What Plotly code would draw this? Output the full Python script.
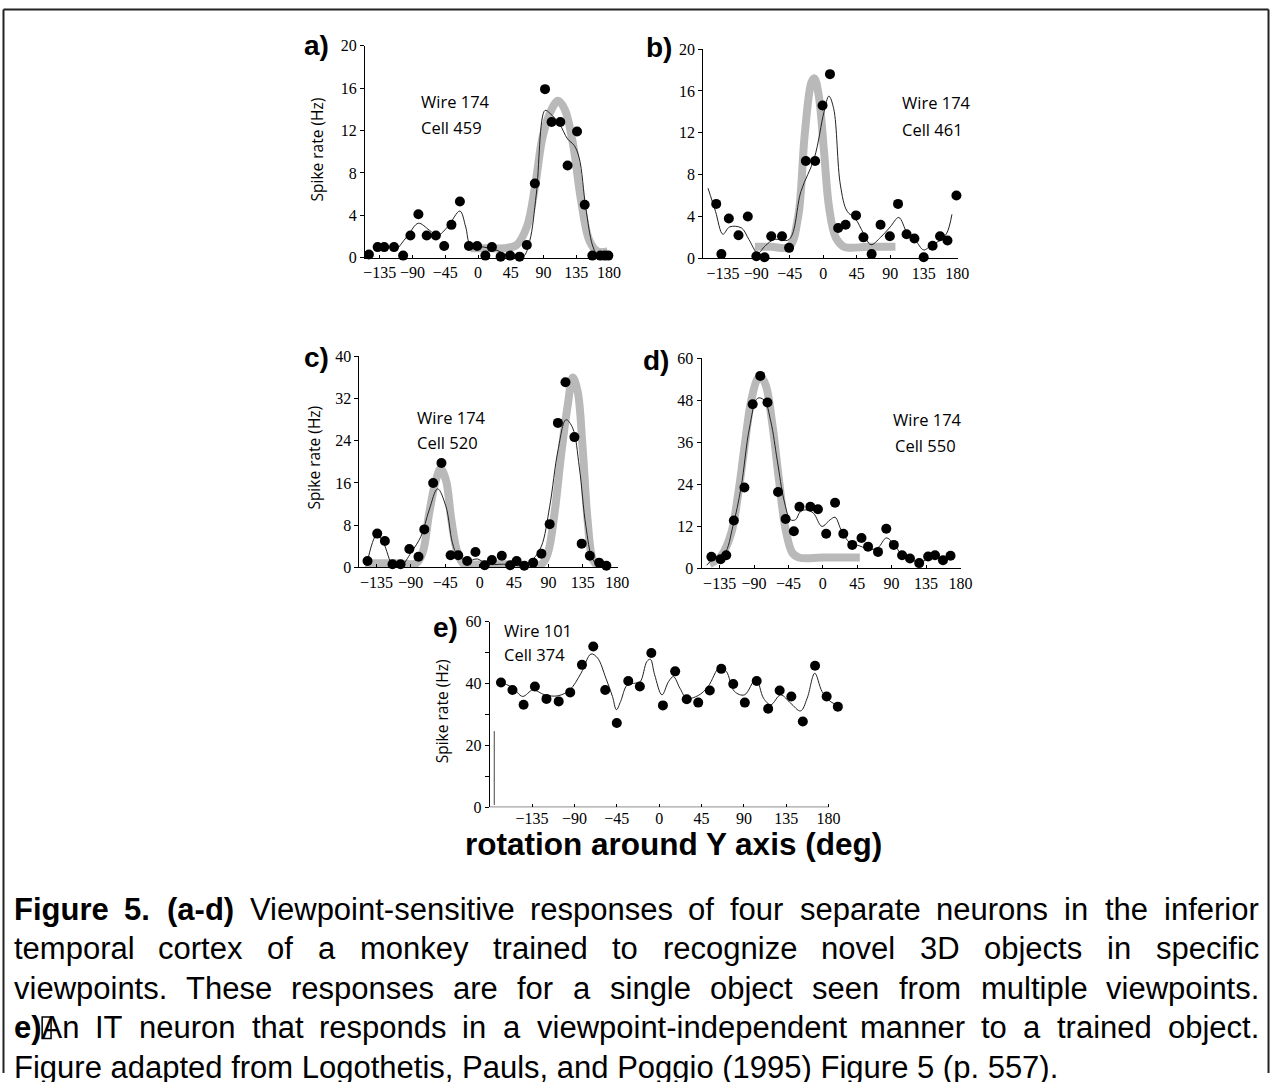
import plotly.graph_objects as go

W, H = 1281, 1082

# ------------------------------------------------------------------ data
# panel a  (Wire 174 / Cell 459)
a_pts_deg = [-150, -138, -129, -115.5, -103, -93, -82, -70.6, -58, -46.6, -36.6, -25, -12.6, -1.3, 10, 19,
             31, 44, 57, 67, 78, 92, 101, 113, 123, 136, 146.5, 157, 168, 174, 179]
a_pts_rate = [0.3, 1.0, 1.0, 1.0, 0.2, 2.1, 4.1, 2.1, 2.1, 1.1, 3.1, 5.3, 1.1, 1.1, 0.2, 1.0,
              0.1, 0.2, 0.1, 1.2, 7.0, 15.9, 12.8, 12.8, 8.7, 11.9, 5.0, 0.2, 0.2, 0.2, 0.2]
a_fit_deg = [-110, -96.5, -82, -67, -55.7, -42, -25, -17, -10.3, 7.8, 26, 44, 62, 71, 80, 92, 99, 112,
             123, 132, 139, 148, 157, 164]
a_fit_rate = [0.9, 2.1, 3.25, 2.6, 2.1, 2.9, 4.4, 2.9, 1.2, 1.0, 0.7, 0.1, 0.1, 1.6, 6.0, 13.9, 13.6, 12.6,
              11.2, 10.6, 9.4, 4.7, 1.2, 0.1]
a_tune_deg = [-10.3, 7.8, 35, 53, 67, 78, 89, 101, 110, 119, 130, 141.5, 153, 164, 178]
a_tune_rate = [0.9, 0.9, 0.9, 1.2, 2.9, 6.6, 11.5, 14.0, 14.8, 14.0, 10.9, 5.4, 1.6, 0.6, 0.6]

# panel b  (Wire 174 / Cell 461)
b_pts_deg = [-144, -137, -127, -114, -101.5, -90, -79, -70, -55.5, -46, -23.5, -11, -1, 9, 20, 30, 44, 54,
             65, 77, 89.5, 100.5, 112, 122.5, 135, 147, 157, 167, 179]
b_pts_rate = [5.2, 0.4, 3.8, 2.2, 4.0, 0.2, 0.1, 2.1, 2.1, 1.0, 9.3, 9.3, 14.6, 17.6, 2.9, 3.2, 4.1, 2.0,
              0.4, 3.2, 2.1, 5.2, 2.3, 1.9, 0.1, 1.2, 2.1, 1.7, 6.0]
b_fit_deg = [-155, -145, -135, -126, -110, -100, -88, -78, -66, -46, -30, -12, 1, 7.5, 14, 23, 32, 43, 54,
             64, 77, 90, 101.5, 113, 124, 135, 146, 157, 166, 173]
b_fit_rate = [6.7, 4.5, 2.3, 3.0, 2.9, 1.8, 0.5, 1.2, 1.8, 1.8, 6.4, 9.6, 14.0, 15.5, 14.3, 7.0, 4.5, 3.8,
              2.4, 1.3, 2.0, 3.0, 3.9, 2.4, 1.7, 0.8, 1.3, 1.7, 2.4, 4.2]
b_tune_deg = [-92, -70, -46, -34, -25, -16, -12, -6, 1, 7.7, 16.7, 28, 60, 97]
b_tune_rate = [1.1, 1.1, 1.1, 3.9, 11.8, 16.8, 17.2, 15.5, 10.2, 4.9, 2.0, 1.1, 1.1, 1.1]

# panel c  (Wire 174 / Cell 520)
c_pts_deg = [-146.7, -134, -124, -114, -103.5, -92, -80, -72.4, -60.8, -50, -38, -28, -16.3, -5.5, 6.6,
             16, 29, 40, 48.4, 58.4, 70, 80.8, 91.6, 102.4, 112.3, 124, 133.5, 144.2, 156.3, 165.8]
c_pts_rate = [1.2, 6.4, 5.0, 0.6, 0.6, 3.5, 2.0, 7.2, 16.0, 19.8, 2.3, 2.3, 1.2, 2.9, 0.4,
              1.4, 2.2, 0.4, 1.2, 0.3, 0.9, 2.6, 8.2, 27.4, 35.1, 24.7, 4.5, 2.2, 0.9, 0.3]
c_fit_deg = [-148, -134.5, -126, -113, -102.6, -89.7, -76.7, -66, -55, -44, -35.7, -29, -16, -3, 9.6, 31,
             57, 70, 80.8, 91.6, 102.4, 113, 121.8, 130.4, 139, 147.7, 156.3, 167]
c_fit_rate = [0.4, 6.2, 4.7, 0.3, 0.3, 2.8, 5.9, 10.9, 14.9, 11.5, 4.7, 2.3, 1.2, 1.6, 0.6, 0.6,
              0.4, 1.6, 4.0, 11.5, 22.1, 28.0, 26.4, 19.0, 7.8, 1.6, 0.3, 0.3]
c_tune_deg = [-150, -110, -83, -74.6, -66, -57.3, -51, -44, -37, -29, -20.6, 0, 40, 80.8, 89.4, 98,
              106.7, 115.3, 121.8, 128.3, 134.7, 141.2, 147.7, 154]
c_tune_rate = [0.8, 0.8, 0.8, 2.8, 10.3, 16.5, 18.7, 16.5, 9.0, 2.8, 0.6, 0.6, 0.6, 0.6, 2.8, 10.3,
               21.5, 30.8, 36.0, 33.3, 22.7, 9.0, 1.6, 0.3]

# panel d  (Wire 174 / Cell 550)
d_pts_deg = [-145.8, -133.7, -126.4, -116.4, -102.6, -91.8, -81.9, -72.4, -58.6, -48.7, -37.9, -30.6,
             -16.3, -6.4, 4.4, 16, 26.8, 38.5, 50.6, 59.2, 72.2, 83, 92.9, 103.7, 114, 126.1, 137.8,
             146.8, 157.2, 167.1]
d_pts_rate = [3.3, 2.6, 3.75, 13.7, 23.1, 46.9, 55.0, 47.4, 21.8, 14.1, 10.6, 17.6,
              17.6, 16.9, 9.9, 18.75, 9.9, 6.7, 8.7, 6.2, 4.7, 11.3, 6.7, 3.75, 2.8, 1.5, 3.4,
              3.75, 2.3, 3.6]
d_fit_deg = [-152, -141.5, -128.5, -117.7, -106.9, -96, -85.4, -76.7, -68.1, -59.5, -50.8, -42.2, -35.7,
             -29.3, -20.6, -12, -1.2, 9.6, 16, 24.7, 35.5, 48.4, 61.4, 72.2, 83, 91.6, 104.5, 115.3,
             126.1, 139, 149.8, 160.6, 169.3]
d_fit_rate = [0.9, 3.1, 4.3, 12, 23.2, 40.1, 48.6, 48.1, 42, 30.7, 19.5, 13.9, 13.9,
              16.2, 16.7, 15.7, 12, 13.9, 14.6, 10.6, 7.3, 6.4, 5.4, 5.9, 8.7, 7.3, 3.6, 2.6,
              1.7, 2.8, 3.1, 2.8, 3.6]
d_tune_deg = [-148, -132.8, -119.8, -111.3, -102.6, -94, -85.4, -81, -74.6, -66, -57.3, -48.7, -40,
              -31.4, 0, 48.4]
d_tune_rate = [1.2, 3.6, 10.1, 20.4, 34.5, 47.6, 54.2, 54.7, 52.3, 41.1, 25.1, 11.1, 4.5,
               3.1, 3.1, 3.1]

# panel e  (Wire 101 / Cell 374)
e_pts_deg = [-168, -155.8, -144, -132, -119.7, -106.7, -94.5, -82, -70, -57.3, -45, -32.8, -20.5, -8.3,
             4, 17, 29.3, 41.5, 53.8, 66, 78.7, 91, 103.6, 115.8, 128, 140.4, 152.6, 165.6, 177.9, 189.8]
e_pts_rate = [40.3, 37.9, 33.1, 39.0, 35.0, 34.2, 37.1, 46.0, 51.9, 37.9, 27.2, 40.8, 39.0, 49.8,
              32.9, 43.9, 34.9, 33.8, 37.7, 44.7, 39.8, 33.8, 40.8, 31.8, 37.7, 35.8, 27.7, 45.7, 35.8, 32.5]
e_fit_deg = [-172, -156, -145, -134, -121.5, -107.5, -95, -83, -72.4, -65.4, -56.6, -49.6, -45.4, -40.9,
             -33.9, -25, -20, -13, -9.3, -4.8, 3, 10, 15.2, 22, 29.3, 41.5, 52, 64.3, 71.3, 80, 90.6,
             102.8, 110.9, 118.6, 129, 139.7, 150.2, 157.2, 165.3, 173, 181.8, 188.7]
e_fit_rate = [40.8, 38.7, 35.8, 37.9, 36.3, 36, 37.9, 43.3, 49.5, 48.2, 41.7, 35.8, 31.5, 34.2,
              39.5, 40.1, 40.6, 47.1, 47.8, 42.8, 36.3, 40.6, 42.2, 38.5, 35.2, 36.1, 39, 45.2, 43.9, 37.4, 36.3,
              41.4, 35.2, 33.1, 36.3, 33.6, 31.1, 35.2, 43.3, 37.4, 34.2, 33.1]

x_tickvals = [-135, -90, -45, 0, 45, 90, 135, 180]
x_ticktext = ["\u2212135", "\u221290", "\u221245", "0", "45", "90", "135", "180"]

panel_labels = ["a)", "b)", "c)", "d)", "e)"]
panel_wire = ["Wire 174", "Wire 174", "Wire 174", "Wire 174", "Wire 101"]
panel_cell = ["Cell 459", "Cell 461", "Cell 520", "Cell 550", "Cell 374"]
panel_yticks = [[0, 4, 8, 12, 16, 20], [0, 4, 8, 12, 16, 20], [0, 8, 16, 24, 32, 40],
                [0, 12, 24, 36, 48, 60], [0, 10, 20, 30, 40, 50, 60]]
panel_yticktext = [None, None, None, None, ["0", "", "20", "", "40", "", "60"]]
y_title = "Spike rate (Hz)"
x_title = "rotation around Y axis (deg)"

caption_lines = [
    [[("Figure", True)], [("5.", True)], [("(a-d)", True)]]
    + [[(w, False)] for w in "Viewpoint-sensitive responses of four separate neurons in the inferior".split()],
    [[(w, False)] for w in "temporal cortex of a monkey trained to recognize novel 3D objects in specific".split()],
    [[(w, False)] for w in "viewpoints. These responses are for a single object seen from multiple viewpoints.".split()],
    [[("e)", True), ("An", False)]]
    + [[(w, False)] for w in "IT neuron that responds in a viewpoint-independent manner to a trained object.".split()],
]
caption_last = "Figure adapted from Logothetis, Pauls, and Poggio (1995) Figure 5 (p. 557)."

# ------------------------------------------------------------------ layout geometry (pixels)
panels = [
    dict(data=(a_pts_deg, a_pts_rate, a_fit_deg, a_fit_rate, a_tune_deg, a_tune_rate),
         x0=366.7, x1=615.0, ytop=38.3, ybot=253.7, xr=[-155.4, 182.3], yr=[0, 20],
         lab=(318, 38), wire=(421, 95), cell=(421, 121), ytitle=(318, 144)),
    dict(data=(b_pts_deg, b_pts_rate, b_fit_deg, b_fit_rate, b_tune_deg, b_tune_rate),
         x0=708.3, x1=965.7, ytop=41.7, ybot=254.3, xr=[-161.6, 181], yr=[0, 20],
         lab=(664, 40), wire=(907, 96), cell=(907, 123), ytitle=None),
    dict(data=(c_pts_deg, c_pts_rate, c_fit_deg, c_fit_rate, c_tune_deg, c_tune_rate),
         x0=361.0, x1=622.3, ytop=354.0, ybot=568.3, xr=[-157.4, 181], yr=[0, 40],
         lab=(318, 355), wire=(417, 416), cell=(417, 441), ytitle=(315, 457)),
    dict(data=(d_pts_deg, d_pts_rate, d_fit_deg, d_fit_rate, d_tune_deg, d_tune_rate),
         x0=706.7, x1=969.0, ytop=356.0, ybot=569.3, xr=[-158.7, 181], yr=[0, 60],
         lab=(661, 358), wire=(898, 418), cell=(900, 444), ytitle=None),
    dict(data=(e_pts_deg, e_pts_rate, e_fit_deg, e_fit_rate, None, None),
         x0=492.7, x1=846.5, ytop=623.3, ybot=812.0, xr=[-180, 192], yr=[0, 60],
         lab=(448, 629), wire=(505, 632), cell=(505, 657), ytitle=(444, 714)),
]

SERIF = "Liberation Serif, Times New Roman, serif"
SANS = "Open Sans, Lato, DejaVu Sans, sans-serif"
ARIAL = "Liberation Sans, Arial, Helvetica, sans-serif"
GRAY = "#b9b9b9"


def px(x):
    return x / W


def py(y):
    return 1 - y / H


fig = go.Figure()
layout = dict(width=W, height=H, margin=dict(l=0, r=0, t=0, b=0),
              paper_bgcolor="white", plot_bgcolor="rgba(0,0,0,0)", showlegend=False)
annotations = []
shapes = []

for i, p in enumerate(panels):
    n = "" if i == 0 else str(i + 1)
    pts_x, pts_y, fit_x, fit_y, tun_x, tun_y = p["data"]
    is_e = (i == 4)
    layout["xaxis" + n] = dict(
        domain=[px(p["x0"]), px(p["x1"])], range=p["xr"], anchor="y" + n,
        showline=not is_e, linecolor="black", linewidth=1, mirror=False,
        ticks="inside", ticklen=3, tickcolor="black", tickwidth=1,
        tickvals=x_tickvals, ticktext=x_ticktext, showgrid=False, zeroline=False,
        tickfont=dict(family=SERIF, size=16, color="black"), fixedrange=True)
    ytt = panel_yticktext[i]
    layout["yaxis" + n] = dict(
        domain=[py(p["ybot"]), py(p["ytop"])], range=p["yr"], anchor="x" + n,
        showline=True, linecolor="black", linewidth=1,
        ticks="outside", ticklen=4, tickcolor="black", tickwidth=1,
        tickvals=panel_yticks[i], ticktext=ytt if ytt else [str(v) for v in panel_yticks[i]],
        showgrid=False, zeroline=False,
        tickfont=dict(family=SERIF, size=16, color="black"), fixedrange=True)

    if tun_x is not None:
        fig.add_trace(go.Scatter(x=tun_x, y=tun_y, mode="lines",
                                 line=dict(color=GRAY, width=8, shape="spline", smoothing=1.0),
                                 xaxis="x" + n, yaxis="y" + n, hoverinfo="skip"))
    fig.add_trace(go.Scatter(x=fit_x, y=fit_y, mode="lines",
                             line=dict(color="#222222", width=1, shape="spline", smoothing=1.0),
                             xaxis="x" + n, yaxis="y" + n, hoverinfo="skip"))
    fig.add_trace(go.Scatter(x=pts_x, y=pts_y, mode="markers",
                             marker=dict(color="black", size=10),
                             cliponaxis=False, xaxis="x" + n, yaxis="y" + n))

    annotations.append(dict(x=px(p["lab"][0]), y=py(p["lab"][1]), xref="paper", yref="paper",
                            text="<b>%s</b>" % panel_labels[i], showarrow=False,
                            xanchor="center", yanchor="middle",
                            font=dict(family=ARIAL, size=28, color="black")))
    for key, txt in (("wire", panel_wire[i]), ("cell", panel_cell[i])):
        annotations.append(dict(x=px(p[key][0]), y=py(p[key][1]), xref="paper", yref="paper",
                                text=txt, showarrow=False, xanchor="left", yanchor="middle",
                                font=dict(family=SANS, size=16.5, color="black")))
    if p["ytitle"]:
        annotations.append(dict(x=px(p["ytitle"][0]), y=py(p["ytitle"][1]), xref="paper", yref="paper",
                                text=y_title, showarrow=False, textangle=-90,
                                xanchor="center", yanchor="middle",
                                font=dict(family=SANS, size=15.5, color="black")))

# panel e x-axis line (ends at 180 while the data run a little further)
shapes.append(dict(type="line", xref="x5", yref="y5", x0=-180, x1=180, y0=0, y1=0,
                   line=dict(color="black", width=1)))
# scanning artifact: short extra vertical stroke next to panel e's y axis
shapes.append(dict(type="line", xref="paper", yref="paper", x0=px(497.3), x1=px(497.3),
                   y0=py(809.7), y1=py(734.7), line=dict(color="#444444", width=1)))

annotations.append(dict(x=px(678), y=py(849), xref="paper", yref="paper", text="<b>%s</b>" % x_title,
                        showarrow=False, xanchor="center", yanchor="middle",
                        font=dict(family=ARIAL, size=31.5, color="black")))

# ------------------------------------------------------------------ caption (justified)
CAP_SIZE = 31
REG = {' ': 278, '-': 333, '.': 278, ',': 278, '(': 333, ')': 333,
       'a': 556, 'b': 556, 'c': 500, 'd': 556, 'e': 556, 'f': 278, 'g': 556, 'h': 556, 'i': 222,
       'j': 222, 'k': 500, 'l': 222, 'm': 833, 'n': 556, 'o': 556, 'p': 556, 'q': 556, 'r': 333,
       's': 500, 't': 278, 'u': 556, 'v': 500, 'w': 722, 'x': 500, 'y': 500, 'z': 500,
       'A': 667, 'D': 722, 'F': 611, 'I': 278, 'L': 556, 'P': 667, 'T': 611, 'V': 667}
BOLD = {' ': 278, '-': 333, '.': 278, '(': 333, ')': 333, '5': 556, 'a': 556, 'd': 611, 'e': 556,
        'g': 611, 'i': 278, 'r': 389, 'u': 611, 'F': 611}


def seg_w(t, bold):
    tbl = BOLD if bold else REG
    return sum(tbl.get(ch, 556) for ch in t) * CAP_SIZE / 1000.0


X0, X1 = 12.0, 1269.0
line_y = [916, 956, 996, 1036, 1076]
for li, words in enumerate(caption_lines):
    widths = [sum(seg_w(t, b) for t, b in w) for w in words]
    gap = (X1 - X0 - sum(widths)) / (len(words) - 1)
    x = X0
    for w, ww in zip(words, widths):
        txt = "".join(("<b>%s</b>" % t) if b else t for t, b in w)
        annotations.append(dict(x=px(x), y=py(line_y[li]), xref="paper", yref="paper", text=txt,
                                showarrow=False, xanchor="left", yanchor="middle", borderpad=0,
                                borderwidth=0, font=dict(family=ARIAL, size=CAP_SIZE, color="black")))
        if w[0][0] == "e)":
            bx = x + seg_w("e)", True) + 1
            shapes.append(dict(type="rect", xref="paper", yref="paper", x0=px(bx), x1=px(bx + 9),
                               y0=py(line_y[li] + 11), y1=py(line_y[li] - 11),
                               line=dict(color="black", width=1.5)))
        x += ww + gap
annotations.append(dict(x=px(X0), y=py(line_y[4]), xref="paper", yref="paper", text=caption_last,
                        showarrow=False, xanchor="left", yanchor="middle", borderpad=0, borderwidth=0,
                        font=dict(family=ARIAL, size=CAP_SIZE, color="black")))

# ------------------------------------------------------------------ frame
frame = dict(color="#222222", width=2)
FL, FR, FT = 1.5, 1279.5, 1.5
shapes.append(dict(type="line", xref="paper", yref="paper", x0=px(FL), x1=px(FR), y0=py(FT), y1=py(FT), line=frame))
shapes.append(dict(type="line", xref="paper", yref="paper", x0=px(FL), x1=px(FL), y0=py(FT), y1=0, line=frame))
shapes.append(dict(type="line", xref="paper", yref="paper", x0=px(FR), x1=px(FR), y0=py(FT), y1=0, line=frame))

layout["annotations"] = annotations
layout["shapes"] = shapes
fig.update_layout(**layout)
fig.write_html("out.html", config={"displayModeBar": False},
               post_script="document.body.style.margin='0px';document.body.style.overflow='hidden';")
